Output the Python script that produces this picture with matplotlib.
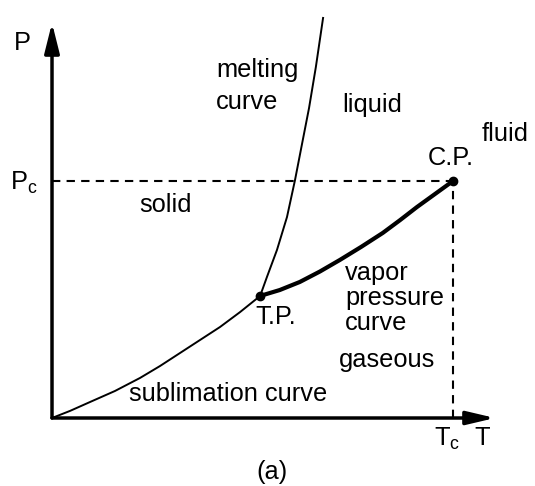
import matplotlib.pyplot as plt

plt.rcParams['font.family'] = ['Liberation Sans', 'DejaVu Sans']
plt.rcParams['mathtext.fontset'] = 'custom'
plt.rcParams['mathtext.rm'] = 'Liberation Sans'

# reduced units: T/Tc, P/Pc
tp = (0.519, 0.515)
cp = (1.0, 1.0)

subl_T = [0.0, 0.045, 0.0948, 0.157, 0.2195, 0.269, 0.319, 0.369, 0.419, 0.469, 0.519]
subl_P = [0.0, 0.030, 0.0675, 0.114, 0.169, 0.219, 0.274, 0.329, 0.384, 0.447, 0.515]

vap_T = [0.519, 0.568, 0.618, 0.668, 0.718, 0.771, 0.825, 0.868, 0.910, 0.955, 1.0]
vap_P = [0.515, 0.540, 0.574, 0.618, 0.667, 0.722, 0.781, 0.835, 0.890, 0.945, 1.0]

melt_T = [0.519, 0.536, 0.561, 0.586, 0.606, 0.623, 0.641, 0.658, 0.676]
melt_P = [0.515, 0.595, 0.709, 0.848, 1.004, 1.152, 1.308, 1.481, 1.688]

fig = plt.figure(figsize=(5.35, 4.86), dpi=100)
ax = fig.add_axes([0, 0, 1, 1])
ax.set_xlim(-0.1297, 1.2045)
ax.set_ylim(-0.2869, 1.7637)
ax.axis('off')

# axes with arrows
ax.annotate('', xy=(0, 1.667), xytext=(0, 0),
            arrowprops=dict(arrowstyle='-|>,head_length=1.8,head_width=0.45',
                            lw=2.5, color='k', mutation_scale=10,
                            shrinkA=0, shrinkB=0))
ax.annotate('', xy=(1.105, 0), xytext=(0, 0),
            arrowprops=dict(arrowstyle='-|>,head_length=1.7,head_width=0.4',
                            lw=2.5, color='k', mutation_scale=10,
                            shrinkA=0, shrinkB=0))

# critical dashed lines
ax.plot([0, cp[0]], [cp[1], cp[1]], color='k', lw=1.5, dashes=(4, 3))
ax.plot([cp[0], cp[0]], [0, cp[1]], color='k', lw=1.5, dashes=(4, 3))

# phase boundaries
ax.plot(subl_T, subl_P, color='k', lw=1.4, solid_joinstyle='round')
ax.plot(melt_T, melt_P, color='k', lw=1.4, solid_joinstyle='round')
ax.plot(vap_T, vap_P, color='k', lw=3, solid_joinstyle='round')
ax.plot([tp[0], cp[0]], [tp[1], cp[1]], 'o', color='k', ms=6)

fs = 18.3
ax.text(-0.075, 1.582, 'P', fontsize=fs, ha='center', va='center')
ax.text(-0.070, 0.99, r'P$_{\rm c}$', fontsize=fs, ha='center', va='center')
ax.text(0.985, -0.09, r'T$_{\rm c}$', fontsize=fs, ha='center', va='center')
ax.text(1.072, -0.084, 'T', fontsize=fs, ha='center', va='center')
ax.text(0.549, -0.228, '(a)', fontsize=fs, ha='center', va='center')

ax.text(0.409, 1.40, 'melting\ncurve', fontsize=fs, ha='left', va='center',
        linespacing=1.4)
ax.text(0.798, 1.321, 'liquid', fontsize=fs, ha='center', va='center')
ax.text(1.13, 1.198, 'fluid', fontsize=fs, ha='center', va='center')
ax.text(0.995, 1.097, 'C.P.', fontsize=fs, ha='center', va='center')
ax.text(0.282, 0.899, 'solid', fontsize=fs, ha='center', va='center')
ax.text(0.731, 0.508, 'vapor\npressure\ncurve', fontsize=fs, ha='left',
        va='center', linespacing=1.05)
ax.text(0.559, 0.426, 'T.P.', fontsize=fs, ha='center', va='center')
ax.text(0.835, 0.245, 'gaseous', fontsize=fs, ha='center', va='center')
ax.text(0.439, 0.101, 'sublimation curve', fontsize=fs, ha='center', va='center')

fig.savefig('out.png', dpi=100, facecolor='white')
